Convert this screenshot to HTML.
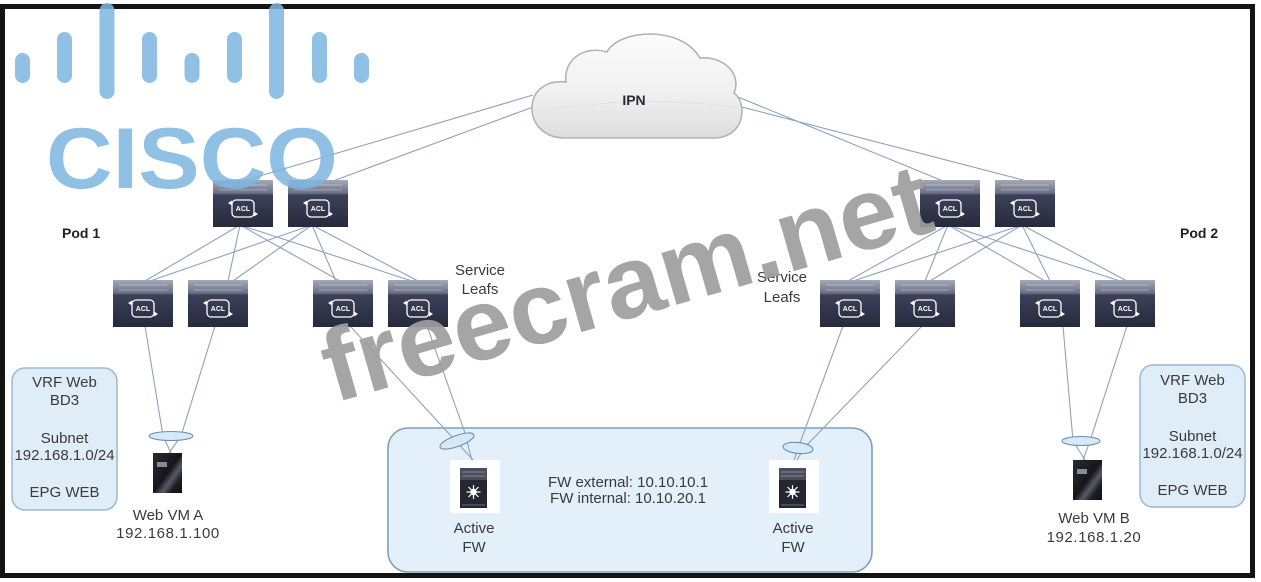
<!DOCTYPE html>
<html><head><meta charset="utf-8">
<style>
html,body{margin:0;padding:0;background:#fff;}
svg{display:block;}
text{font-family:"Liberation Sans",Arial,sans-serif;}
</style></head><body>
<svg width="1261" height="582" viewBox="0 0 1261 582" xmlns="http://www.w3.org/2000/svg">
<defs>
<linearGradient id="swg" x1="0" y1="0" x2="0" y2="1">
<stop offset="0" stop-color="#a5aab7"/>
<stop offset="0.28" stop-color="#6a7084"/>
<stop offset="0.32" stop-color="#3c415a"/>
<stop offset="1" stop-color="#262a3c"/>
</linearGradient>
<linearGradient id="cloudg" x1="0" y1="0" x2="0" y2="1">
<stop offset="0" stop-color="#fbfbfb"/>
<stop offset="0.55" stop-color="#f1f1f1"/>
<stop offset="1" stop-color="#dedede"/>
</linearGradient>
<linearGradient id="srvg" x1="0" y1="0" x2="1" y2="1">
<stop offset="0" stop-color="#2a2a33"/>
<stop offset="0.5" stop-color="#15151b"/>
<stop offset="0.65" stop-color="#5a5a66"/>
<stop offset="0.8" stop-color="#1b1b22"/>
<stop offset="1" stop-color="#101015"/>
</linearGradient>
<g id="sw">
<rect x="0" y="0" width="60" height="47" fill="url(#swg)"/>
<line x1="6" y1="5" x2="54" y2="5" stroke="#d6d9e0" stroke-width="0.8" opacity="0.7"/>
<line x1="6" y1="10" x2="54" y2="10" stroke="#d6d9e0" stroke-width="0.8" opacity="0.6"/>
<rect x="19" y="20" width="22" height="17" rx="4" fill="none" stroke="#fff" stroke-width="1.3"/>
<path d="M15 23 l4 -2.5 v5z" fill="#fff"/>
<path d="M45 34 l-4 -2.5 v5z" fill="#fff"/>
</g>
<g id="srv">
<rect x="0" y="0" width="29" height="40" fill="url(#srvg)"/>
<rect x="4" y="9" width="10" height="5" fill="#8a8a96"/>
</g>
<g id="fw">
<rect x="0" y="0" width="50" height="53" fill="#ffffff"/>
<rect x="10" y="8" width="27" height="40" fill="#25262f"/>
<rect x="10" y="8" width="27" height="12" fill="#4b4d5a"/>
<line x1="12" y1="12" x2="35" y2="12" stroke="#9a9ca8" stroke-width="0.8"/>
<line x1="12" y1="16" x2="35" y2="16" stroke="#9a9ca8" stroke-width="0.8"/>
<circle cx="23.5" cy="32" r="3.2" fill="#fff"/>
<g stroke="#fff" stroke-width="1.2">
<line x1="23.5" y1="25" x2="23.5" y2="39"/>
<line x1="16.5" y1="32" x2="30.5" y2="32"/>
<line x1="18.5" y1="27" x2="28.5" y2="37"/>
<line x1="28.5" y1="27" x2="18.5" y2="37"/>
</g>
<line x1="12" y1="45" x2="35" y2="45" stroke="#6a6c78" stroke-width="1"/>
</g>
</defs>

<rect x="0" y="0" width="1261" height="582" fill="#fff"/>

<!-- boxes -->
<rect x="388" y="428" width="484" height="144" rx="20" fill="#e3eff9" stroke="#7f9fbd" stroke-width="1.6"/>
<rect x="12" y="368" width="105" height="142" rx="13" fill="#deedf8" stroke="#9bb9d6" stroke-width="1.5"/>
<rect x="1140" y="365" width="105" height="142" rx="13" fill="#deedf8" stroke="#9bb9d6" stroke-width="1.5"/>

<!-- connector lines -->
<g stroke="#8ea2bd" stroke-width="1.1" fill="none">
<line x1="533" y1="95" x2="243" y2="181"/>
<line x1="533" y1="107" x2="333" y2="181"/>
<line x1="738" y1="97" x2="943" y2="181"/>
<line x1="738" y1="106" x2="1027" y2="181"/>
<line x1="240" y1="225" x2="145" y2="281"/>
<line x1="240" y1="225" x2="228" y2="281"/>
<line x1="240" y1="225" x2="340" y2="281"/>
<line x1="240" y1="225" x2="412" y2="281"/>
<line x1="312" y1="225" x2="150" y2="281"/>
<line x1="312" y1="225" x2="233" y2="281"/>
<line x1="312" y1="225" x2="336" y2="281"/>
<line x1="312" y1="225" x2="418" y2="281"/>
<line x1="948" y1="225" x2="848" y2="281"/>
<line x1="948" y1="225" x2="925" y2="281"/>
<line x1="948" y1="225" x2="1045" y2="281"/>
<line x1="948" y1="225" x2="1120" y2="281"/>
<line x1="1022" y1="225" x2="853" y2="281"/>
<line x1="1022" y1="225" x2="930" y2="281"/>
<line x1="1022" y1="225" x2="1050" y2="281"/>
<line x1="1022" y1="225" x2="1127" y2="281"/>
<polyline points="145,326 163,436 171,453"/>
<polyline points="215,326 181,436 169,453"/>
<polyline points="350,326 452,437 474,461"/>
<polyline points="427,326 465,433 472,461"/>
<polyline points="843,326 800,443 793,463"/>
<polyline points="922,326 805,447 795,463"/>
<polyline points="1063,326 1073,441 1085,460"/>
<polyline points="1127,326 1090,441 1083,460"/>
</g>

<!-- port-channel ellipses -->
<g fill="#d6e9f6" stroke="#6f8eac" stroke-width="1.1">
<ellipse cx="171" cy="436" rx="22" ry="4.5"/>
<ellipse cx="1081" cy="441" rx="19" ry="4.5"/>
<ellipse cx="457" cy="441" rx="18" ry="5.5" transform="rotate(-20 457 441)"/>
<ellipse cx="798" cy="448" rx="15" ry="5.5" transform="rotate(6 798 448)"/>
</g>

<!-- cloud -->
<path d="M565 138 C545 138 532 125 532 108 C532 90 547 80 566 82 C563 60 584 45 607 52 C618 30 680 24 700 58 C724 56 742 74 734 93 C747 102 746 136 716 138 Z" fill="url(#cloudg)" stroke="#b3b3b3" stroke-width="1.6"/>
<path d="M536 112 C600 100 680 98 738 108" fill="none" stroke="#e2e2e2" stroke-width="1"/>
<text x="634" y="105" font-size="14" font-weight="bold" fill="#2a2a35" text-anchor="middle">IPN</text>

<!-- switches -->
<use href="#sw" x="213" y="180"/>
<use href="#sw" x="288" y="180"/>
<use href="#sw" x="113" y="280"/>
<use href="#sw" x="188" y="280"/>
<use href="#sw" x="313" y="280"/>
<use href="#sw" x="388" y="280"/>
<use href="#sw" x="920" y="180"/>
<use href="#sw" x="995" y="180"/>
<use href="#sw" x="820" y="280"/>
<use href="#sw" x="895" y="280"/>
<use href="#sw" x="1020" y="280"/>
<use href="#sw" x="1095" y="280"/>
<g font-size="7" font-weight="bold" fill="#fff" text-anchor="middle">
<text x="243" y="211">ACL</text>
<text x="318" y="211">ACL</text>
<text x="143" y="311">ACL</text>
<text x="218" y="311">ACL</text>
<text x="343" y="311">ACL</text>
<text x="418" y="311">ACL</text>
<text x="950" y="211">ACL</text>
<text x="1025" y="211">ACL</text>
<text x="850" y="311">ACL</text>
<text x="925" y="311">ACL</text>
<text x="1050" y="311">ACL</text>
<text x="1125" y="311">ACL</text>
</g>

<!-- servers and firewalls -->
<use href="#srv" x="153" y="453"/>
<use href="#srv" x="1073" y="460"/>
<use href="#fw" x="450" y="460"/>
<use href="#fw" x="769" y="460"/>

<!-- labels -->
<g font-size="15" fill="#3a3a3a" text-anchor="middle">
<text x="64.5" y="387">VRF Web</text>
<text x="64.5" y="405">BD3</text>
<text x="64.5" y="443">Subnet</text>
<text x="64.5" y="460">192.168.1.0/24</text>
<text x="64.5" y="497">EPG WEB</text>
<text x="1192.5" y="385">VRF Web</text>
<text x="1192.5" y="403">BD3</text>
<text x="1192.5" y="441">Subnet</text>
<text x="1192.5" y="458">192.168.1.0/24</text>
<text x="1192.5" y="495">EPG WEB</text>
<text x="628" y="487">FW external: 10.10.10.1</text>
<text x="628" y="503">FW internal: 10.10.20.1</text>
<text x="474" y="533">Active</text>
<text x="474" y="552">FW</text>
<text x="793" y="533">Active</text>
<text x="793" y="552">FW</text>
<text x="168" y="520">Web VM A</text>
<text x="168" y="538" letter-spacing="0.6">192.168.1.100</text>
<text x="1094" y="523">Web VM B</text>
<text x="1094" y="542" letter-spacing="0.6">192.168.1.20</text>
<text x="480" y="275">Service</text>
<text x="480" y="294">Leafs</text>
<text x="782" y="282">Service</text>
<text x="782" y="302">Leafs</text>
</g>
<g font-size="14" font-weight="bold" fill="#222">
<text x="62" y="238">Pod 1</text>
<text x="1180" y="238">Pod 2</text>
</g>

<!-- frame -->
<rect x="2.5" y="6.5" width="1250" height="569" fill="none" stroke="#141414" stroke-width="5"/>

<!-- watermark -->
<text x="334" y="403" font-size="102" font-weight="bold" fill="#9e9e9e" opacity="0.92" textLength="628" lengthAdjust="spacingAndGlyphs" transform="rotate(-16 334 403)">freecram.net</text>

<!-- cisco logo -->
<g stroke="#7db6df" stroke-width="15" stroke-linecap="round" opacity="0.85">
<line x1="22.5" y1="60.5" x2="22.5" y2="75.5"/>
<line x1="64.5" y1="39.5" x2="64.5" y2="75.5"/>
<line x1="107" y1="10.5" x2="107" y2="91.5"/>
<line x1="149.5" y1="39.5" x2="149.5" y2="75.5"/>
<line x1="192" y1="60.5" x2="192" y2="75.5"/>
<line x1="234.5" y1="39.5" x2="234.5" y2="75.5"/>
<line x1="276.5" y1="10.5" x2="276.5" y2="91.5"/>
<line x1="319.5" y1="39.5" x2="319.5" y2="75.5"/>
<line x1="361.5" y1="60.5" x2="361.5" y2="75.5"/>
</g>
<text x="46" y="188" font-size="86" font-weight="bold" fill="#7db6df" opacity="0.85" textLength="292" lengthAdjust="spacingAndGlyphs">CISCO</text>
</svg>
</body></html>
